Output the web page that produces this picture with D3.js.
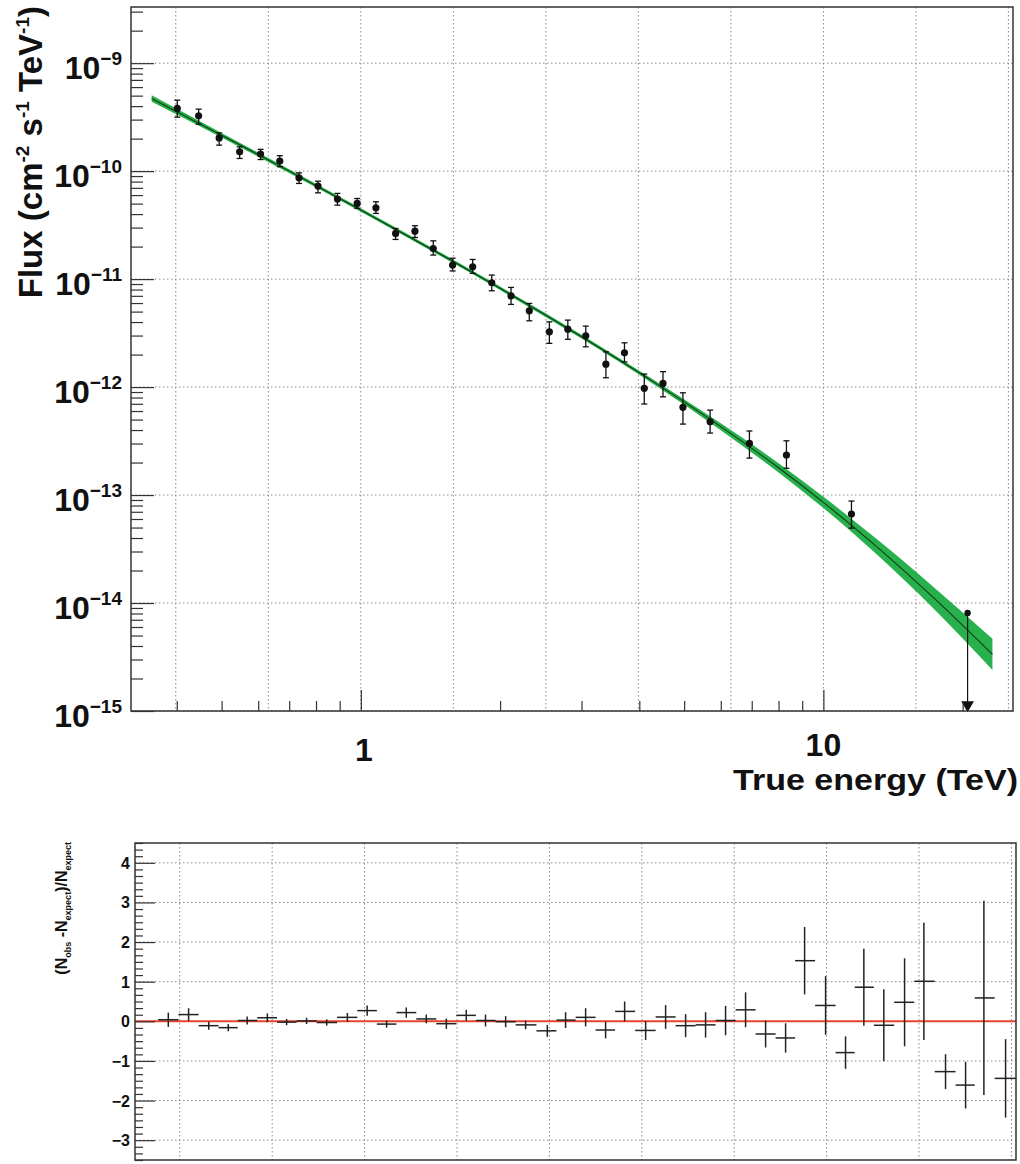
<!DOCTYPE html>
<html>
<head>
<meta charset="utf-8">
<script src="https://cdn.jsdelivr.net/npm/d3@7"></script>
<style>
  body { margin: 0; background: #fff; }
  svg { display: block; }
  text { font-family: "Liberation Sans", Arial, sans-serif; font-weight: bold; fill: #111; }
</style>
</head>
<body>
<script>
// ---- spectrum points (TeV, cm^-2 s^-1 TeV^-1) ----
const fluxE   = [0.401, 0.446, 0.494, 0.547, 0.607, 0.668, 0.735, 0.808, 0.890, 0.982, 1.078, 1.189, 1.309, 1.434, 1.579, 1.745, 1.919, 2.112, 2.313, 2.556, 2.802, 3.064, 3.387, 3.715, 4.10, 4.50, 4.97, 5.69, 6.92, 8.32, 11.50];
const fluxVal = [3.81e-10, 3.25e-10, 2.03e-10, 1.51e-10, 1.44e-10, 1.24e-10, 8.67e-11, 7.27e-11, 5.51e-11, 5.02e-11, 4.57e-11, 2.65e-11, 2.78e-11, 1.92e-11, 1.35e-11, 1.30e-11, 9.25e-12, 7.00e-12, 5.08e-12, 3.25e-12, 3.44e-12, 2.98e-12, 1.63e-12, 2.08e-12, 9.73e-13, 1.08e-12, 6.49e-13, 4.77e-13, 3.01e-13, 2.35e-13, 6.67e-14];
const fluxHi  = [4.54e-10, 3.75e-10, 2.26e-10, 1.68e-10, 1.59e-10, 1.39e-10, 9.64e-11, 8.07e-11, 6.22e-11, 5.58e-11, 5.20e-11, 2.94e-11, 3.12e-11, 2.26e-11, 1.56e-11, 1.52e-11, 1.09e-11, 8.37e-12, 5.95e-12, 4.02e-12, 4.17e-12, 3.67e-12, 2.12e-12, 2.57e-12, 1.32e-12, 1.39e-12, 8.85e-13, 6.12e-13, 3.92e-13, 3.18e-13, 8.80e-14];
const fluxLo  = [3.16e-10, 2.72e-10, 1.74e-10, 1.31e-10, 1.28e-10, 1.10e-10, 7.69e-11, 6.29e-11, 4.84e-11, 4.52e-11, 4.06e-11, 2.33e-11, 2.43e-11, 1.67e-11, 1.19e-11, 1.13e-11, 7.80e-12, 5.83e-12, 4.11e-12, 2.54e-12, 2.77e-12, 2.36e-12, 1.22e-12, 1.71e-12, 6.97e-13, 8.12e-13, 4.54e-13, 3.75e-13, 2.20e-13, 1.77e-13, 4.94e-14];
// upper limit
const ulE   = [20.5];
const ulVal = [8.1e-15];

// ---- fitted spectrum and its error band ----
const fitE    = [0.353, 0.5, 0.7, 1, 1.5, 2, 3, 4.36, 6, 8, 10, 13, 17.3, 23.2];
const fitFlux = [4.71e-10, 2.15e-10, 1.00e-10, 4.37e-11, 1.66e-11, 8.22e-12, 2.92e-12, 1.07e-12, 4.30e-13, 1.79e-13, 8.55e-14, 3.37e-14, 1.12e-14, 3.35e-15];
const bandLo  = [4.40e-10, 2.05e-10, 9.59e-11, 4.21e-11, 1.60e-11, 7.92e-12, 2.81e-12, 1.02e-12, 3.99e-13, 1.62e-13, 7.59e-14, 2.86e-14, 8.91e-15, 2.40e-15];
const bandHi  = [5.05e-10, 2.26e-10, 1.04e-10, 4.53e-11, 1.73e-11, 8.53e-12, 3.05e-12, 1.12e-12, 4.62e-13, 1.97e-13, 9.64e-14, 3.95e-14, 1.41e-14, 4.68e-15];

// ---- residuals (N_obs - N_expect)/N_expect ----
const resE   = [0.376, 0.416, 0.460, 0.507, 0.557, 0.616, 0.678, 0.749, 0.828, 0.918, 1.013, 1.116, 1.231, 1.360, 1.503, 1.660, 1.827, 2.020, 2.231, 2.486, 2.723, 3.009, 3.324, 3.655, 4.058, 4.483, 4.953, 5.471, 6.044, 6.678, 7.379, 8.152, 8.962, 9.95, 10.99, 12.04, 13.30, 14.75, 16.24, 18.09, 19.99, 21.90, 24.40];
const resVal = [0.04, 0.17, -0.11, -0.16, 0.02, 0.09, -0.02, 0.01, -0.03, 0.10, 0.27, -0.07, 0.22, 0.06, -0.06, 0.15, 0.02, -0.01, -0.09, -0.24, 0.03, 0.10, -0.22, 0.25, -0.23, 0.11, -0.11, -0.09, 0.02, 0.29, -0.32, -0.42, 1.53, 0.40, -0.79, 0.86, -0.10, 0.48, 1.01, -1.27, -1.61, 0.59, -1.44];
const resErr = [0.18, 0.16, 0.10, 0.09, 0.10, 0.11, 0.08, 0.08, 0.08, 0.11, 0.13, 0.09, 0.13, 0.11, 0.13, 0.14, 0.15, 0.14, 0.11, 0.15, 0.20, 0.23, 0.21, 0.25, 0.24, 0.30, 0.29, 0.32, 0.37, 0.44, 0.34, 0.37, 0.85, 0.74, 0.41, 0.97, 0.91, 1.11, 1.48, 0.44, 0.59, 2.45, 0.99];

// ---- ticks / grid ----
const xMajor = [1, 10];
const xMinor = [0.4, 0.5, 0.6, 0.7, 0.8, 0.9, 2, 3, 4, 5, 6, 7, 8, 9, 20];
const gridE  = [0.398, 0.631, 1, 1.585, 2.512, 3.981, 6.31, 10, 15.85, 25.12];
const yExp   = [-9, -10, -11, -12, -13, -14, -15];
const resTicks = [4, 3, 2, 1, 0, -1, -2, -3];

const W = 1020, H = 1164;
const svg = d3.select("body").append("svg").attr("width", W).attr("height", H);

const P1 = {l: 131, t: 7, r: 1013, b: 711};
const P2 = {l: 135, t: 843, r: 1016, b: 1160};

const xTop = d3.scaleLog().domain([0.3185, 25.7]).range([P1.l, P1.r]);
const xBot = d3.scaleLog().domain([0.3185, 25.7]).range([P2.l, P2.r]);
const yTop = d3.scaleLog().domain([1e-15, Math.pow(10, -8.48)]).range([P1.b, P1.t]);
const yBot = d3.scaleLinear().domain([-3.5, 4.5]).range([P2.b, P2.t]);

const gridStyle = sel => sel.attr("stroke", "#8a8a8a").attr("stroke-width", 1).attr("stroke-dasharray", "1.5,2.5");

// ================= top panel =================
let g1 = svg.append("g");

// grid
g1.selectAll(".vg").data(gridE).enter().append("line")
  .attr("x1", d => xTop(d)).attr("x2", d => xTop(d))
  .attr("y1", P1.t).attr("y2", P1.b).call(gridStyle);
g1.selectAll(".hg").data(yExp).enter().append("line")
  .attr("x1", P1.l).attr("x2", P1.r)
  .attr("y1", d => yTop(Math.pow(10, d))).attr("y2", d => yTop(Math.pow(10, d))).call(gridStyle);

// error band + fit
let bandData = fitE.map((e, i) => ({e: e, lo: bandLo[i], hi: bandHi[i], f: fitFlux[i]}));
g1.append("path").datum(bandData)
  .attr("d", d3.area().curve(d3.curveMonotoneX)
    .x(d => xTop(d.e)).y0(d => yTop(d.lo)).y1(d => yTop(d.hi)))
  .attr("fill", "#27b04b");
g1.append("path").datum(bandData)
  .attr("d", d3.line().curve(d3.curveMonotoneX).x(d => xTop(d.e)).y(d => yTop(d.f)))
  .attr("fill", "none").attr("stroke", "#123d18").attr("stroke-width", 1.1);

// data points
let pts = fluxE.map((e, i) => ({e: e, v: fluxVal[i], lo: fluxLo[i], hi: fluxHi[i]}));
let pg = g1.selectAll(".pt").data(pts).enter().append("g");
pg.append("line").attr("x1", d => xTop(d.e)).attr("x2", d => xTop(d.e))
  .attr("y1", d => yTop(d.hi)).attr("y2", d => yTop(d.lo))
  .attr("stroke", "#111").attr("stroke-width", 1.3);
pg.append("line").attr("x1", d => xTop(d.e) - 3).attr("x2", d => xTop(d.e) + 3)
  .attr("y1", d => yTop(d.hi)).attr("y2", d => yTop(d.hi))
  .attr("stroke", "#111").attr("stroke-width", 1.3);
pg.append("line").attr("x1", d => xTop(d.e) - 3).attr("x2", d => xTop(d.e) + 3)
  .attr("y1", d => yTop(d.lo)).attr("y2", d => yTop(d.lo))
  .attr("stroke", "#111").attr("stroke-width", 1.3);
pg.append("circle").attr("cx", d => xTop(d.e)).attr("cy", d => yTop(d.v)).attr("r", 3.6).attr("fill", "#111");

// upper limit
let ul = ulE.map((e, i) => ({e: e, v: ulVal[i]}));
let ug = g1.selectAll(".ul").data(ul).enter().append("g");
ug.append("line").attr("x1", d => xTop(d.e)).attr("x2", d => xTop(d.e))
  .attr("y1", d => yTop(d.v)).attr("y2", P1.b - 4)
  .attr("stroke", "#111").attr("stroke-width", 1.2);
ug.append("circle").attr("cx", d => xTop(d.e)).attr("cy", d => yTop(d.v)).attr("r", 3.2).attr("fill", "#111");
ug.append("path").attr("d", d3.symbol(d3.symbolTriangle).size(70))
  .attr("transform", d => "translate(" + xTop(d.e) + "," + (P1.b - 6) + ") rotate(180)")
  .attr("fill", "#111");

// frame
g1.append("rect").attr("x", P1.l).attr("y", P1.t).attr("width", P1.r - P1.l).attr("height", P1.b - P1.t)
  .attr("fill", "none").attr("stroke", "#333").attr("stroke-width", 1.5);

// axes ticks (inward)
const noDomain = sel => { sel.select(".domain").remove(); sel.selectAll(".tick line").attr("stroke", "#333").attr("stroke-width", 1.2); };
g1.append("g").attr("transform", "translate(0," + P1.b + ")")
  .call(d3.axisBottom(xTop).tickValues(xMinor).tickSize(-10).tickFormat("")).call(noDomain);
g1.append("g").attr("transform", "translate(0," + P1.b + ")")
  .call(d3.axisBottom(xTop).tickValues(xMajor).tickSize(-21).tickFormat("")).call(noDomain);

let yMinor = [];
for (let ex = -15; ex <= -9; ex++) for (let m = 2; m <= 9; m++) {
  let v = m * Math.pow(10, ex);
  if (v < yTop.domain()[1]) yMinor.push(v);
}
g1.append("g").attr("transform", "translate(" + P1.l + ",0)")
  .call(d3.axisLeft(yTop).tickValues(yMinor).tickSize(-12).tickFormat("")).call(noDomain);
g1.append("g").attr("transform", "translate(" + P1.l + ",0)")
  .call(d3.axisLeft(yTop).tickValues(yExp.map(d => Math.pow(10, d))).tickSize(-23).tickFormat("")).call(noDomain);

// y labels 10^n
yExp.forEach(ex => {
  let t = g1.append("text").attr("x", 122).attr("y", yTop(Math.pow(10, ex)) + 16)
    .attr("text-anchor", "end").style("font-size", "32px");
  t.append("tspan").text("10");
  t.append("tspan").attr("dy", -14).style("font-size", "19px").text("\u2212" + Math.abs(ex));
});

// x labels
g1.append("text").attr("x", xTop(1) + 3).attr("y", 761).attr("text-anchor", "middle").style("font-size", "32px").text("1");
g1.append("text").attr("x", xTop(10)).attr("y", 756).attr("text-anchor", "middle").style("font-size", "32px").text("10");
g1.append("text").attr("x", 1018).attr("y", 790).attr("text-anchor", "end").style("font-size", "30px")
  .attr("textLength", 285).attr("lengthAdjust", "spacingAndGlyphs").text("True energy (TeV)");

// y title
let yt = g1.append("text").attr("transform", "translate(42,6) rotate(-90)")
  .attr("text-anchor", "end").style("font-size", "33px");
yt.append("tspan").text("Flux (cm");
yt.append("tspan").attr("dy", -13).style("font-size", "19px").text("-2");
yt.append("tspan").attr("dy", 13).text(" s");
yt.append("tspan").attr("dy", -13).style("font-size", "19px").text("-1");
yt.append("tspan").attr("dy", 13).text(" TeV");
yt.append("tspan").attr("dy", -13).style("font-size", "19px").text("-1");
yt.append("tspan").attr("dy", 13).text(")");

// ================= bottom panel =================
let g2 = svg.append("g");

g2.selectAll(".vg").data(gridE).enter().append("line")
  .attr("x1", d => xBot(d)).attr("x2", d => xBot(d))
  .attr("y1", P2.t).attr("y2", P2.b).call(gridStyle);
g2.selectAll(".hg").data(resTicks).enter().append("line")
  .attr("x1", P2.l).attr("x2", P2.r)
  .attr("y1", d => yBot(d)).attr("y2", d => yBot(d)).call(gridStyle);

// zero line
g2.append("line").attr("x1", P2.l).attr("x2", P2.r).attr("y1", yBot(0)).attr("y2", yBot(0))
  .attr("stroke", "#e8432d").attr("stroke-width", 2);

// residual crosses, bin edges halfway (in log) between neighbouring centres
let res = resE.map((e, i) => {
  let prev = i > 0 ? resE[i - 1] : e * e / resE[i + 1];
  let next = i < resE.length - 1 ? resE[i + 1] : e * e / resE[i - 1];
  return {e: e, v: resVal[i], err: resErr[i], x0: Math.sqrt(prev * e), x1: Math.sqrt(e * next)};
});
let rg = g2.selectAll(".res").data(res).enter().append("g");
rg.append("line").attr("x1", d => xBot(d.x0)).attr("x2", d => xBot(d.x1))
  .attr("y1", d => yBot(d.v)).attr("y2", d => yBot(d.v))
  .attr("stroke", "#222").attr("stroke-width", 1.5);
rg.append("line").attr("x1", d => xBot(d.e)).attr("x2", d => xBot(d.e))
  .attr("y1", d => yBot(d.v + d.err)).attr("y2", d => yBot(d.v - d.err))
  .attr("stroke", "#222").attr("stroke-width", 1.5);

g2.append("rect").attr("x", P2.l).attr("y", P2.t).attr("width", P2.r - P2.l).attr("height", P2.b - P2.t)
  .attr("fill", "none").attr("stroke", "#333").attr("stroke-width", 1.5);

let resMinor = d3.range(-21, 28).map(k => k / 6).filter(v => Math.abs(v - Math.round(v)) > 1e-6);
g2.append("g").attr("transform", "translate(" + P2.l + ",0)")
  .call(d3.axisLeft(yBot).tickValues(resMinor).tickSize(-8).tickFormat("")).call(noDomain);
g2.append("g").attr("transform", "translate(" + P2.l + ",0)")
  .call(d3.axisLeft(yBot).tickValues(resTicks).tickSize(-20).tickFormat("")).call(noDomain);

g2.selectAll(".rl").data(resTicks).enter().append("text")
  .attr("x", 130).attr("y", d => yBot(d) + 6).attr("text-anchor", "end")
  .style("font-size", "16px").text(d => d < 0 ? "\u2212" + Math.abs(d) : d);

let bt = g2.append("text").attr("transform", "translate(67,842) rotate(-90)")
  .attr("text-anchor", "end").style("font-size", "16px");
bt.append("tspan").text("(N");
bt.append("tspan").attr("dy", 4).style("font-size", "9px").text("obs");
bt.append("tspan").attr("dy", -4).text(" -N");
bt.append("tspan").attr("dy", 4).style("font-size", "9px").text("expect");
bt.append("tspan").attr("dy", -4).text(")/N");
bt.append("tspan").attr("dy", 4).style("font-size", "9px").text("expect");
</script>
</body>
</html>
